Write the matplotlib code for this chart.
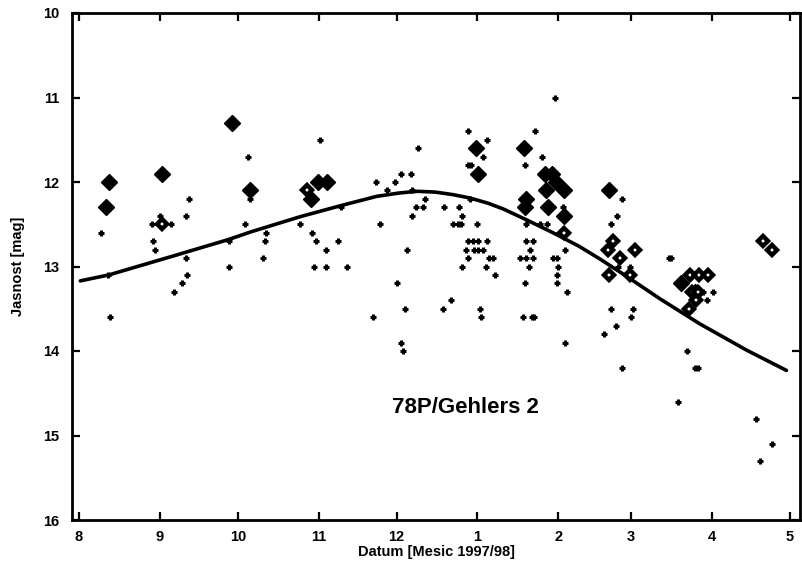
import matplotlib
matplotlib.use("Agg")
import matplotlib.pyplot as plt
import matplotlib.transforms as mtransforms

plt.rcParams['font.family'] = ['Liberation Sans', 'DejaVu Sans']
plt.rcParams['font.weight'] = 'bold'

# x = days since 1997-08-01
month_days = [0, 31, 61, 92, 122, 153, 184, 212, 243, 273]
month_labels = ['8', '9', '10', '11', '12', '1', '2', '3', '4', '5']

plus_day = [8.4, 11.0, 11.9, 31.2, 28.0, 35.4, 28.4, 29.3, 42.1, 41.2, 41.1, 41.4, 39.6, 36.4,
            64.9, 65.8, 63.9, 57.5, 57.7, 72.0, 71.3, 70.5, 84.9, 89.3, 91.0, 95.0, 90.2, 95.0,
            99.6, 103.0, 92.5, 100.5, 114.0, 115.6, 118.4, 121.4, 123.5, 127.5, 127.9, 130.0,
            132.9, 129.6, 132.0, 127.9, 125.8, 122.0, 125.2, 113.0, 123.5, 124.3, 139.6, 142.9,
            154.0, 154.4, 159.8, 171.3, 170.6, 173.8, 174.7, 149.3, 156.5, 155.0, 149.3, 150.4,
            140.2, 150.2, 146.0, 147.0, 143.8, 145.7, 146.6, 153.0, 149.5, 151.4, 153.3, 156.5,
            148.6, 151.8, 153.3, 155.0, 149.5, 157.6, 158.8, 147.0, 156.3, 175.1, 178.0, 171.3,
            186.0, 171.7, 177.0, 179.6, 171.7, 174.2, 173.2, 169.4, 171.7, 174.5, 173.0, 182.2,
            183.4, 184.0, 183.7, 183.4, 186.6, 187.3, 186.6, 204.2, 212.9, 206.2, 211.9, 201.6,
            208.4, 233.6, 236.6, 237.8, 230.1, 259.9, 266.2, 261.5, 208.7, 206.7, 204.5, 207.0,
            211.6, 226.5, 227.5, 241.0, 239.8, 243.3, 32.0, 182.8]
plus_mag = [12.6, 13.1, 13.6, 12.4, 12.5, 12.5, 12.7, 12.8, 12.2, 12.4, 12.9, 13.1, 13.2, 13.3,
            11.7, 12.2, 12.5, 12.7, 13.0, 12.6, 12.7, 12.9, 12.5, 12.6, 12.7, 12.8, 13.0, 13.0,
            12.7, 13.0, 11.5, 12.3, 12.0, 12.5, 12.1, 12.0, 11.9, 11.9, 12.1, 11.6,
            12.2, 12.3, 12.3, 12.4, 12.8, 13.2, 13.5, 13.6, 13.9, 14.0, 13.5, 13.4,
            13.5, 13.6, 13.1, 13.2, 13.6, 13.6, 13.6, 11.4, 11.5, 11.7, 11.8, 11.8,
            12.3, 12.2, 12.3, 12.4, 12.5, 12.5, 12.5, 12.5, 12.7, 12.7, 12.7, 12.7,
            12.8, 12.8, 12.8, 12.8, 12.9, 12.9, 12.9, 13.0, 13.0, 11.4, 11.7, 11.8,
            12.3, 12.5, 12.5, 12.5, 12.7, 12.7, 12.8, 12.9, 12.9, 12.9, 13.0, 12.9,
            12.9, 13.0, 13.1, 13.2, 12.8, 13.3, 13.9, 13.5, 13.5, 13.7, 13.6, 13.8,
            14.2, 14.0, 14.2, 14.2, 14.6, 14.8, 15.1, 15.3, 12.2, 12.4, 12.5, 13.0,
            13.0, 12.9, 12.9, 13.4, 13.3, 13.3, 12.5, 11.0]

filled_day = [11.4, 10.4, 31.9, 58.9, 65.8, 89.0, 91.9, 95.1, 152.5, 153.1, 170.9, 171.7, 171.3,
              179.0, 181.5, 183.2, 179.3, 180.2, 186.3, 186.3, 203.6, 231.2, 236.5]
filled_mag = [12.0, 12.3, 11.9, 11.3, 12.1, 12.2, 12.0, 12.0, 11.6, 11.9, 11.6, 12.2, 12.3,
              11.9, 11.9, 12.0, 12.1, 12.3, 12.1, 12.4, 12.1, 13.2, 13.3]

open_day = [32.0, 87.4, 186.3, 205.0, 203.0, 207.8, 203.6, 211.6, 213.6, 234.6, 238.2, 241.7,
            235.6, 237.8, 237.0, 234.4, 262.5, 266.0]
open_mag = [12.5, 12.1, 12.6, 12.7, 12.8, 12.9, 13.1, 13.1, 12.8, 13.1, 13.1, 13.1,
            13.3, 13.3, 13.4, 13.5, 12.7, 12.8]

curve_day = [0.5, 11.4, 35.7, 57.5, 66.0, 85.0, 100.5, 114.3, 123.0, 130.0, 137.0, 143.7, 150.2,
             157.0, 163.0, 172.0, 182.0, 192.0, 200.0, 210.0, 223.0, 238.5, 256.4, 271.7]
curve_mag = [13.17, 13.10, 12.88, 12.68, 12.59, 12.41, 12.28, 12.17, 12.13, 12.11, 12.12, 12.15, 12.19,
             12.25, 12.32, 12.45, 12.60, 12.76, 12.91, 13.11, 13.38, 13.68, 13.99, 14.23]

fig = plt.figure(figsize=(8.02, 5.64), dpi=100)
ax = fig.add_axes([72/802, 44/564, 728/802, 507/564])

ax.plot(curve_day, curve_mag, color='black', lw=2.6, solid_capstyle='round', zorder=2)
ax.plot(plus_day, plus_mag, linestyle='none', marker='+', ms=5, mew=2.2, color='black', zorder=3)
ax.plot(filled_day, filled_mag, linestyle='none', marker='D', ms=8.2, mfc='black', mec='black',
        mew=1.0, zorder=4)
ax.plot(open_day, open_mag, linestyle='none', marker='D', ms=5.6, mfc='white', mec='black',
        mew=3.2, zorder=5)

ax.set_xlim(-2.7, 276.9)
ax.set_ylim(16, 10)
ax.set_yticks([10, 11, 12, 13, 14, 15, 16])
ax.set_yticklabels(['10', '11', '12', '13', '14', '15', '16'], fontsize=10.5, fontweight='bold')
ax.set_xticks(month_days)
ax.set_xticklabels(month_labels, fontsize=10.5, fontweight='bold')
offset = mtransforms.ScaledTranslation(6/100, 0, fig.dpi_scale_trans)
for lbl in ax.get_xticklabels():
    lbl.set_transform(lbl.get_transform() + offset)

ax.tick_params(direction='in', length=6, width=1.6, top=True, right=True, pad=7)
ax.tick_params(axis='y', pad=9)
for s in ax.spines.values():
    s.set_linewidth(2)

ax.set_xlabel('Datum [Mesic 1997/98]', fontsize=10.5, fontweight='bold', labelpad=1)
ax.set_ylabel('Jasnost [mag]', fontsize=10.5, fontweight='bold', labelpad=13)
ax.text(0.54, 0.221, '78P/Gehlers 2', transform=ax.transAxes, ha='center', va='center',
        fontsize=16, fontweight='bold')

fig.savefig('out.png', dpi=100)
